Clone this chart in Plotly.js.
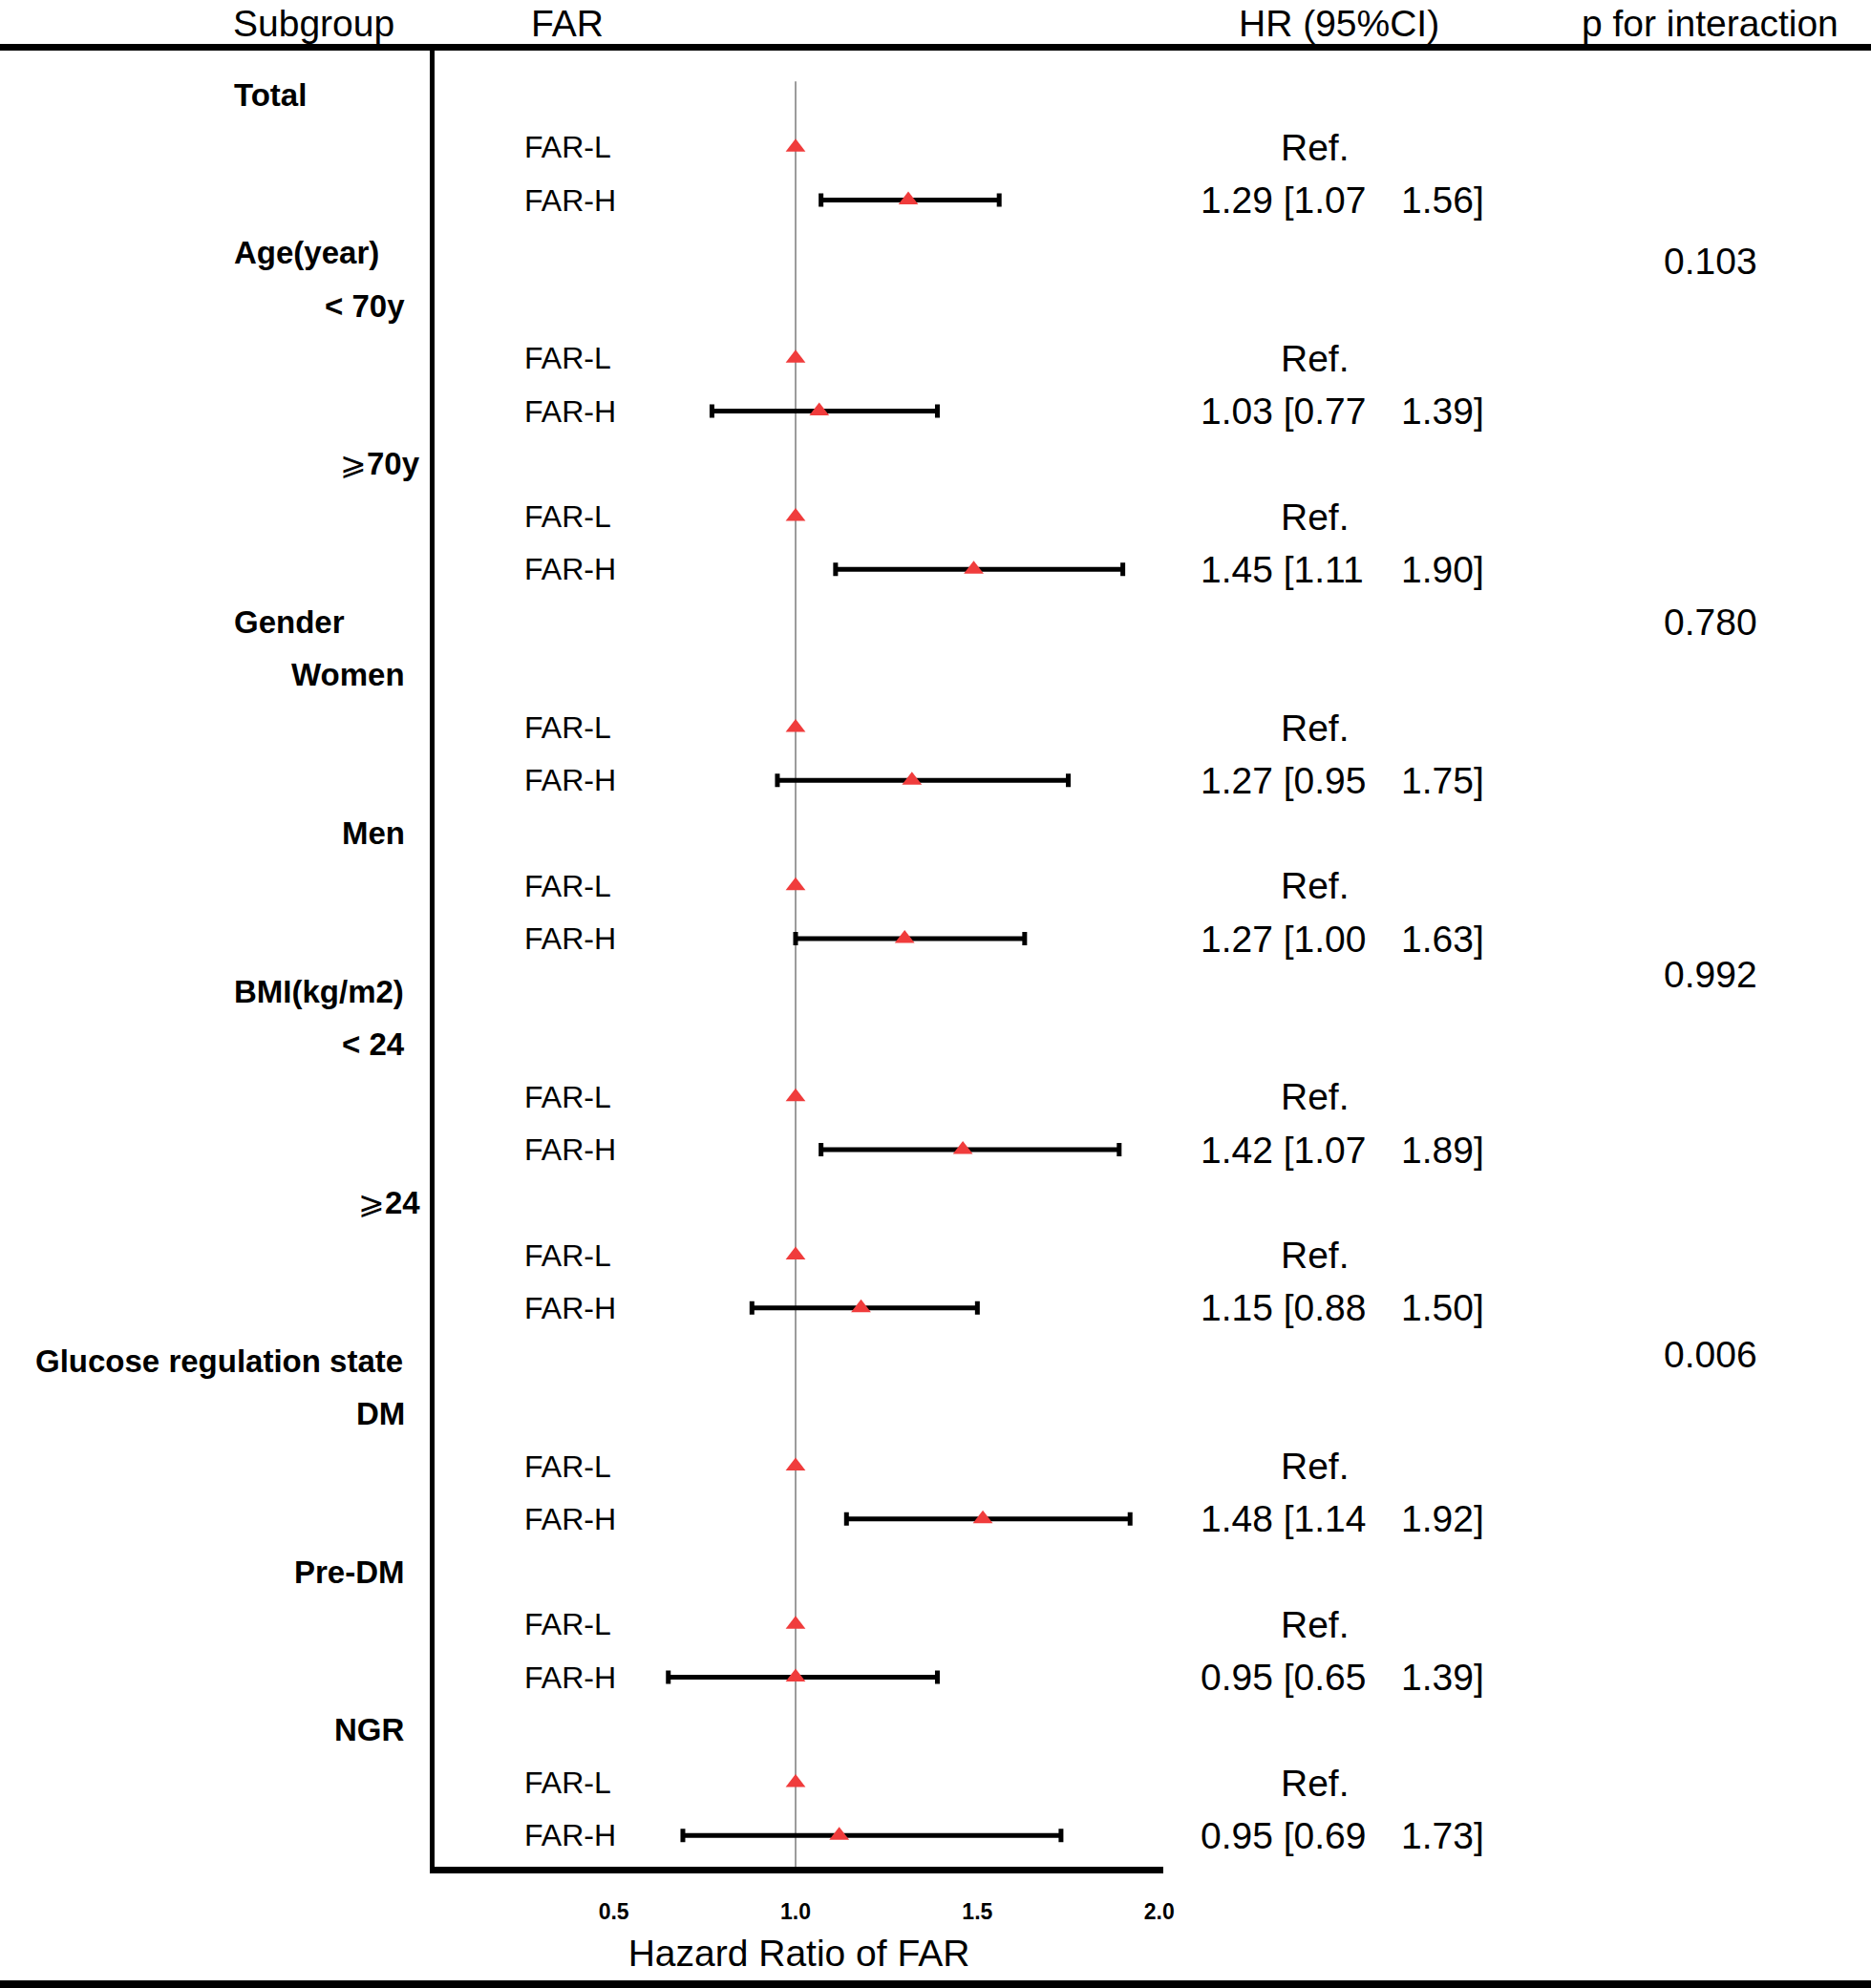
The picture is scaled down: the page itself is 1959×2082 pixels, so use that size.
<!DOCTYPE html>
<html><head><meta charset="utf-8">
<script src="https://cdn.plot.ly/plotly-3.0.1.min.js"></script>
<style>html,body{margin:0;padding:0;background:#fff}</style>
</head><body>
<div id="chart" style="width:1959px;height:2082px"></div>
<script>
// ---------------- data ----------------
const headers = ['Subgroup', 'FAR', 'HR (95%CI)', 'p for interaction'];
const groupNames = ['Total', 'Age(year)', 'Gender', 'BMI(kg/m2)', 'Glucose regulation state'];
const pInteraction = ['', '0.103', '0.780', '0.992', '0.006'];
const subgroupNames = ['', '< 70y', '⩾70y', 'Women', 'Men', '< 24', '⩾24', 'DM', 'Pre-DM', 'NGR'];
const subgroupGroup = [0, 1, 1, 2, 2, 3, 3, 4, 4, 4];
const levelLabels = ['FAR-L', 'FAR-H'];
const refLabel = 'Ref.';
const refHR = [1, 1, 1, 1, 1, 1, 1, 1, 1, 1];
const plottedHR = [1.31, 1.065, 1.49, 1.32, 1.30, 1.46, 1.18, 1.515, 1.00, 1.12];
const hrText = ['1.29', '1.03', '1.45', '1.27', '1.27', '1.42', '1.15', '1.48', '0.95', '0.95'];
const ciLow = [1.07, 0.77, 1.11, 0.95, 1.00, 1.07, 0.88, 1.14, 0.65, 0.69];
const ciHigh = [1.56, 1.39, 1.90, 1.75, 1.63, 1.89, 1.50, 1.92, 1.39, 1.73];
const xTickVals = [0.5, 1.0, 1.5, 2.0];
const xTickText = ['0.5', '1.0', '1.5', '2.0'];
const xTitle = 'Hazard Ratio of FAR';

// ---------------- layout geometry ----------------
const W = 1959, H = 2082;
const M = {l: 455, r: 741, t: 53, b: 127};
const PW = W - M.l - M.r, PH = H - M.t - M.b;
const px2x = p => (p - M.l) / PW;
const py2y = p => 1 - (p - M.t) / PH;
const FONT = 'Liberation Sans, Arial, Helvetica, sans-serif';

// build row structure
const rows = [];
let lastGroup = -1;
subgroupNames.forEach((s, i) => {
  const g = subgroupGroup[i];
  if (g !== lastGroup) { rows.push({kind: 'group', g: g}); lastGroup = g; }
  if (s) rows.push({kind: 'sub', i: i});
  rows.push({kind: 'L', i: i});
  rows.push({kind: 'H', i: i});
});
const rowL = subgroupNames.map((s, i) => rows.findIndex(r => r.kind === 'L' && r.i === i));
const rowH = subgroupNames.map((s, i) => rows.findIndex(r => r.kind === 'H' && r.i === i));

const pOffset = [0, 0.15, 0, -0.33, -0.12];

const ann = [];
function txt(text, x, y, opts) {
  ann.push(Object.assign({
    text: text, x: x, y: y, xref: 'paper', yref: 'y', showarrow: false,
    xanchor: 'left', yanchor: 'middle',
    font: {family: FONT, size: 32, color: '#000'}
  }, opts || {}));
}
rows.forEach((r, k) => {
  if (r.kind === 'group') {
    const name = groupNames[r.g];
    const long = name.length > 15;
    txt(name, px2x(long ? 424 : 243), k, {xanchor: long ? 'right' : 'left',
      font: {family: FONT, size: 33, color: '#000', weight: 'bold'}});
    if (pInteraction[r.g]) {
      txt(pInteraction[r.g], px2x(1791), k + pOffset[r.g], {xanchor: 'center',
        font: {family: FONT, size: 39, color: '#000'}});
    }
  } else if (r.kind === 'sub') {
    const name = subgroupNames[r.i];
    const ge = name.charAt(0) === '⩾';
    const t = ge ? '<span style="font-weight:normal">⩾</span>' + name.slice(1) : name;
    txt(t, px2x(ge ? 442 : 426), k, {xanchor: 'right',
      font: {family: FONT, size: 33, color: '#000', weight: 'bold'}});
  } else if (r.kind === 'L') {
    txt(levelLabels[0], px2x(547), k);
    txt(refLabel, px2x(1377), k, {xanchor: 'center', font: {family: FONT, size: 39, color: '#000'}});
  } else {
    txt(levelLabels[1], px2x(547), k);
    txt(hrText[r.i] + ' [' + ciLow[r.i].toFixed(2), px2x(1255), k,
      {font: {family: FONT, size: 39, color: '#000'}});
    txt(ciHigh[r.i].toFixed(2) + ']', px2x(1556), k,
      {xanchor: 'right', font: {family: FONT, size: 39, color: '#000'}});
  }
});
// header
const headerX = [328, 594, 1402, 1790];
headers.forEach((h, i) => {
  ann.push({text: h, x: px2x(headerX[i]), y: py2y(1), xref: 'paper', yref: 'paper',
    showarrow: false, xanchor: 'center', yanchor: 'top',
    font: {family: FONT, size: 39, color: '#000'}});
});

const markerStyle = {symbol: 'triangle-up', size: 18, color: '#f03c3c', line: {width: 0}};

const traces = [
  {
    type: 'scatter', mode: 'markers', name: levelLabels[0],
    x: refHR, y: rowL, marker: markerStyle, cliponaxis: false, hoverinfo: 'x'
  },
  {
    type: 'scatter', mode: 'markers', name: levelLabels[1],
    x: plottedHR, y: rowH, marker: markerStyle, cliponaxis: false, hoverinfo: 'x',
    error_x: {
      type: 'data', symmetric: false,
      array: plottedHR.map((v, i) => ciHigh[i] - v),
      arrayminus: plottedHR.map((v, i) => v - ciLow[i]),
      color: '#000', thickness: 5, width: 7
    }
  }
];

const yTop = -(99 - M.t) / 55.25;
const yBot = (H - M.b - 99) / 55.25;

const layout = {
  width: W, height: H,
  margin: M,
  paper_bgcolor: '#fff', plot_bgcolor: '#fff',
  showlegend: false,
  font: {family: FONT, color: '#000'},
  xaxis: {
    range: [0.0071, 2.0113],
    showline: true, linewidth: 7, linecolor: '#000',
    showgrid: false, zeroline: false,
    tickmode: 'array', tickvals: xTickVals, ticktext: xTickText,
    ticks: 'outside', ticklen: 20, tickcolor: 'rgba(0,0,0,0)',
    tickfont: {family: FONT, size: 23, color: '#000', weight: 'bold'},
    title: {text: xTitle, font: {family: FONT, size: 39, color: '#000'}, standoff: 21}
  },
  yaxis: {
    range: [yBot, yTop],
    showline: true, linewidth: 5, linecolor: '#000',
    showgrid: false, zeroline: false, showticklabels: false, ticks: ''
  },
  shapes: [
    {type: 'line', xref: 'x', yref: 'y', x0: 1, x1: 1, y0: -0.25, y1: yBot,
     line: {color: '#9c9c9c', width: 2}, layer: 'below'},
    {type: 'rect', xref: 'paper', yref: 'paper', x0: px2x(0), x1: px2x(W),
     y0: py2y(53), y1: py2y(46), fillcolor: '#000', line: {width: 0}},
    {type: 'rect', xref: 'paper', yref: 'paper', x0: px2x(0), x1: px2x(W),
     y0: py2y(2082), y1: py2y(2074), fillcolor: '#000', line: {width: 0}}
  ],
  annotations: ann
};

Plotly.newPlot('chart', traces, layout, {displayModeBar: false, staticPlot: true});
</script>
</body></html>
